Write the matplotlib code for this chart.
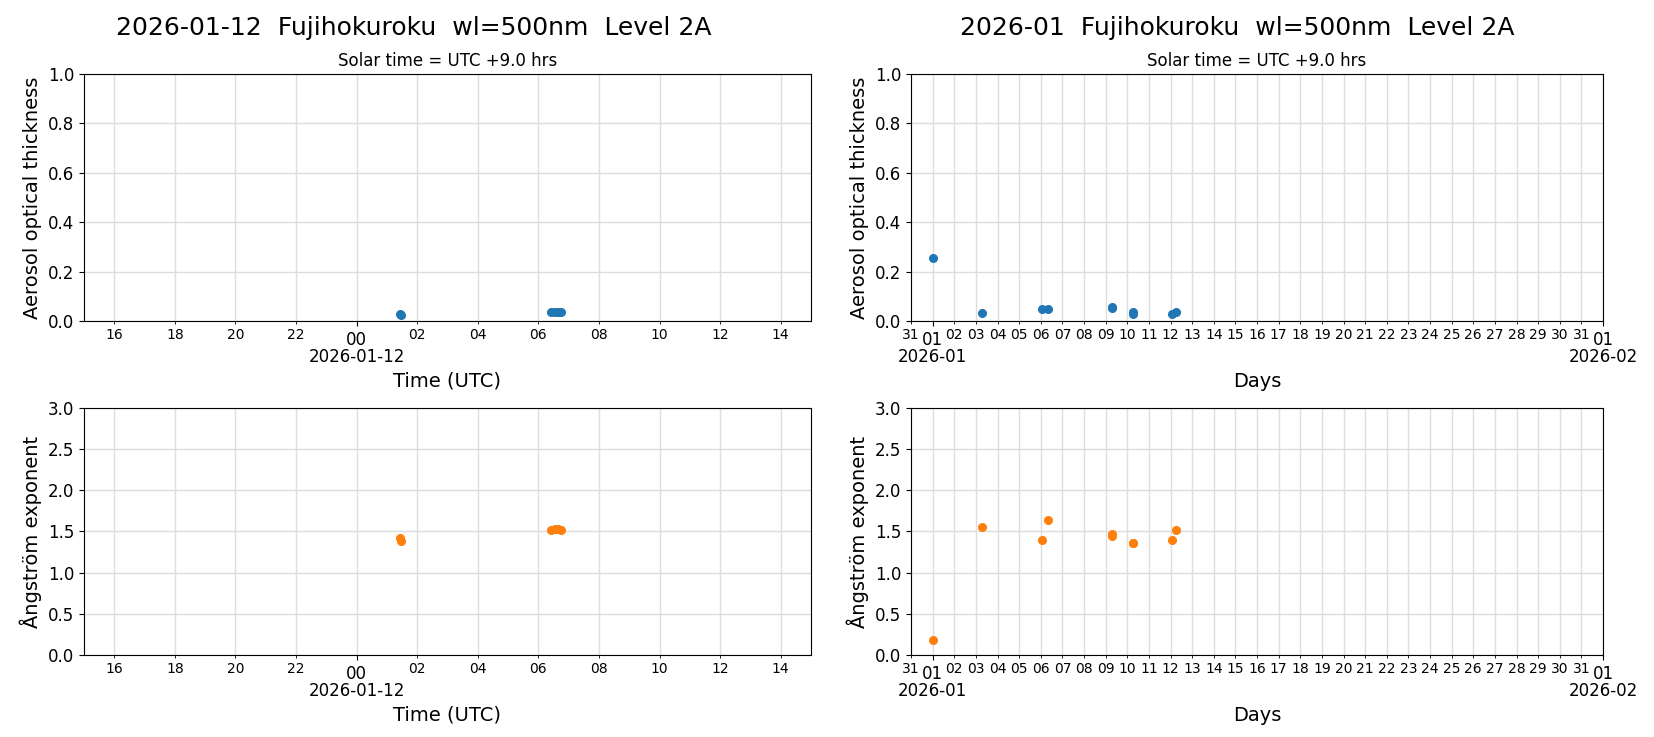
import matplotlib
matplotlib.use("Agg")
import matplotlib.pyplot as plt
import matplotlib.dates as mdates
import pandas as pd

# --- daily panel (2026-01-12) ---
day_times = ["2026-01-12 01:26", "2026-01-12 01:28",
             "2026-01-12 06:26", "2026-01-12 06:32", "2026-01-12 06:38", "2026-01-12 06:44"]
day_aot = [0.027, 0.026, 0.036, 0.036, 0.036, 0.036]
day_ae = [1.42, 1.38, 1.52, 1.53, 1.53, 1.52]

# --- monthly panel (2026-01) ---
mon_times = ["2026-01-01 00:10",
             "2026-01-03 07:10",
             "2026-01-06 01:40", "2026-01-06 08:00",
             "2026-01-09 07:20", "2026-01-09 07:30",
             "2026-01-10 06:40", "2026-01-10 06:50",
             "2026-01-12 01:27", "2026-01-12 06:35"]
mon_aot = [0.254, 0.031, 0.047, 0.047, 0.054, 0.056, 0.036, 0.027, 0.027, 0.036]
mon_ae = [0.18, 1.555, 1.40, 1.64, 1.47, 1.445, 1.355, 1.36, 1.40, 1.52]

day_t = pd.to_datetime(day_times)
mon_t = pd.to_datetime(mon_times)

fig = plt.figure(figsize=(16.54, 7.37), dpi=100)
axes = {}
axes['d_aot'] = fig.add_axes([0.0508, 0.5645, 0.4395, 0.3351])
axes['d_ae'] = fig.add_axes([0.0508, 0.1113, 0.4395, 0.3351])
axes['m_aot'] = fig.add_axes([0.5508, 0.5645, 0.4184, 0.3351])
axes['m_ae'] = fig.add_axes([0.5508, 0.1113, 0.4184, 0.3351])

fig.text(0.25, 0.962, "2026-01-12  Fujihokuroku  wl=500nm  Level 2A",
         ha='center', va='center', fontsize=18)
fig.text(0.748, 0.962, "2026-01  Fujihokuroku  wl=500nm  Level 2A",
         ha='center', va='center', fontsize=18)


def style_day(ax):
    ax.set_xlim(pd.Timestamp("2026-01-11 15:00"), pd.Timestamp("2026-01-12 15:00"))
    ax.xaxis.set_major_locator(mdates.DayLocator())
    ax.xaxis.set_major_formatter(mdates.DateFormatter("%H\n%Y-%m-%d"))
    ax.xaxis.set_minor_locator(mdates.HourLocator(byhour=range(0, 24, 2)))
    ax.xaxis.set_minor_formatter(mdates.DateFormatter("%H"))
    ax.set_xlabel("Time (UTC)", fontsize=14)


def style_month(ax):
    ax.set_xlim(pd.Timestamp("2025-12-31"), pd.Timestamp("2026-02-01"))
    ax.xaxis.set_major_locator(mdates.MonthLocator())
    ax.xaxis.set_major_formatter(mdates.DateFormatter("%d\n%Y-%m"))
    ax.xaxis.set_minor_locator(mdates.DayLocator())
    ax.xaxis.set_minor_formatter(mdates.DateFormatter("%d"))
    ax.set_xlabel("Days", fontsize=14)


for key, ax in axes.items():
    if key.startswith('d'):
        style_day(ax)
    else:
        style_month(ax)
    ax.tick_params(axis='x', which='major', labelsize=12)
    ax.tick_params(axis='x', which='minor', labelsize=10)
    ax.tick_params(axis='y', labelsize=12)
    ax.grid(True, which='both', color='#dddddd', linewidth=1.0)
    ax.set_axisbelow(True)

for key in ['d_aot', 'm_aot']:
    axes[key].set_ylim(0, 1.0)
    axes[key].set_ylabel("Aerosol optical thickness", fontsize=14)
    axes[key].set_title("Solar time = UTC +9.0 hrs", fontsize=12)
for key in ['d_ae', 'm_ae']:
    axes[key].set_ylim(0, 3.0)
    axes[key].set_ylabel("Ångström exponent", fontsize=14)

axes['d_aot'].plot(day_t, day_aot, 'o', color='C0', ms=5.5)
axes['d_ae'].plot(day_t, day_ae, 'o', color='C1', ms=5.5)
axes['m_aot'].plot(mon_t, mon_aot, 'o', color='C0', ms=5.5)
axes['m_ae'].plot(mon_t, mon_ae, 'o', color='C1', ms=5.5)

# tighter spacing between the hour/day and the date line
fig.canvas.draw()
for ax in axes.values():
    for lab in ax.get_xticklabels(which='major'):
        lab.set_linespacing(0.95)

fig.savefig("out.png", dpi=100)
